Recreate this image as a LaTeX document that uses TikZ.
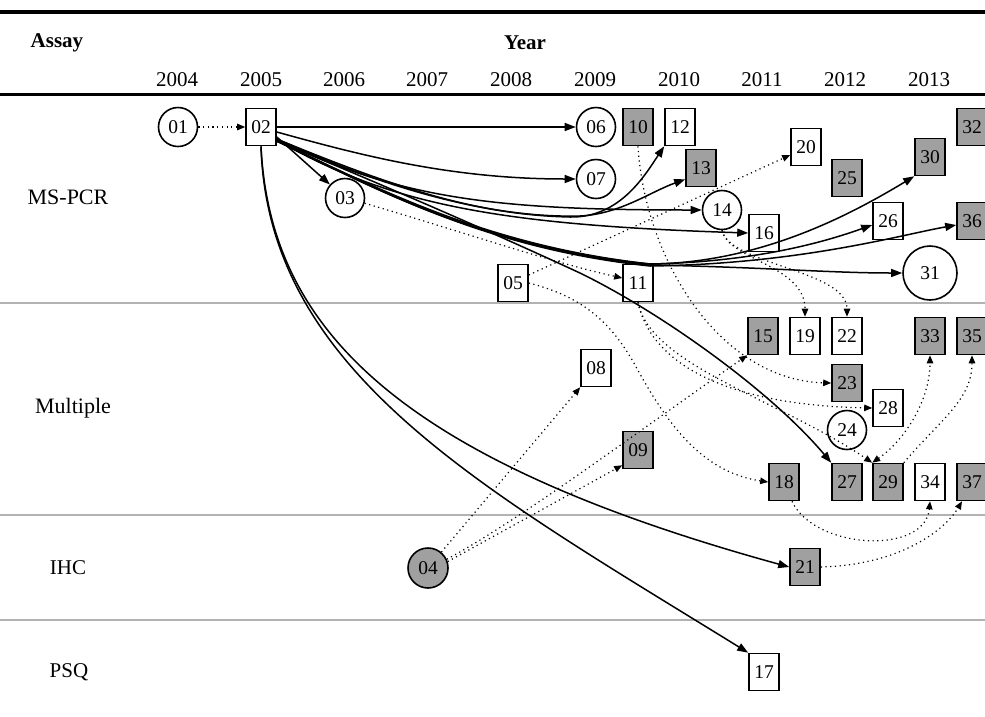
\documentclass[tikz,border=0pt]{standalone}
\usepackage{fontspec}
\setmainfont{Liberation Serif}
\usetikzlibrary{arrows.meta}
\definecolor{nodegray}{RGB}{160,160,160}
\definecolor{rulegray}{RGB}{178,178,178}
\begin{document}
\begin{tikzpicture}[x=1pt,y=-1pt,
  every node/.style={font=\fontsize{19.5}{22}\selectfont},
  sqbox/.style={draw, line width=1.6pt, minimum width=30pt, minimum height=37pt, inner sep=0pt, fill=white},
  gsqbox/.style={sqbox, fill=nodegray},
  circnode/.style={draw, circle, line width=1.6pt, minimum size=39pt, inner sep=0pt, fill=white},
  gcircnode/.style={circnode, fill=nodegray},
  soledge/.style={line width=1.5pt, -{Triangle[length=11pt,width=8pt]}},
  dotedge/.style={line width=1.2pt, dash pattern=on 1.2pt off 3.5pt, -{Triangle[length=8pt,width=6.5pt]}},
  dotboth/.style={line width=1.2pt, dash pattern=on 1.2pt off 3.5pt, {Triangle[length=8pt,width=6.5pt]}-{Triangle[length=8pt,width=6.5pt]}},
  lbl/.style={font=\fontsize{21}{24}\selectfont},
  hdr/.style={font=\fontsize{21}{24}\selectfont\bfseries},
]
\useasboundingbox (0,0) rectangle (985,716);
\clip (0,0) rectangle (985,716);

% rules
\draw[line width=4pt] (0,12) -- (985,12);
\draw[line width=3pt] (0,94) -- (985,94);
\draw[rulegray, line width=2.5pt] (0,303) -- (985,303);
\draw[rulegray, line width=2.5pt] (0,515) -- (985,515);
\draw[rulegray, line width=2.5pt] (0,620) -- (985,620);

% headers
\node[hdr] (hassay) at (57,43) {Assay};
\node[hdr] (hyear) at (525,43) {Year};
\foreach \yr/\xx in {2004/177,2005/261,2006/344,2007/427,2008/511,2009/595,2010/679,2011/762,2012/845,2013/929}
  \node[lbl] (y\yr) at (\xx,80) {\yr};

% row labels
\node[lbl, font=\fontsize{22}{24}\selectfont] (rms) at (68,197) {MS-PCR};
\node[lbl, font=\fontsize{22}{24}\selectfont] (rmu) at (73,408) {Multiple};
\node[lbl] (rih) at (68,568) {IHC};
\node[lbl] (rps) at (69,672) {PSQ};

% nodes
\node[circnode] (n01) at (178,127) {01};
\node[sqbox] (n02) at (261,127) {02};
\node[circnode] (n03) at (345,198) {03};
\node[gcircnode, minimum size=40pt] (n04) at (428,568) {04};
\node[sqbox] (n05) at (513,283) {05};
\node[circnode] (n06) at (596,127) {06};
\node[circnode] (n07) at (596,179) {07};
\node[sqbox] (n08) at (596,368) {08};
\node[gsqbox] (n09) at (638,450) {09};
\node[gsqbox] (n10) at (638,127) {10};
\node[sqbox] (n11) at (638,283) {11};
\node[sqbox] (n12) at (680,127) {12};
\node[gsqbox] (n13) at (701,168) {13};
\node[circnode] (n14) at (722,210) {14};
\node[gsqbox] (n15) at (763,336) {15};
\node[sqbox] (n16) at (764,233) {16};
\node[sqbox] (n17) at (764,672) {17};
\node[gsqbox] (n18) at (784,482) {18};
\node[sqbox] (n19) at (805,336) {19};
\node[sqbox] (n20) at (806,147) {20};
\node[gsqbox] (n21) at (805,567) {21};
\node[sqbox] (n22) at (847,336) {22};
\node[gsqbox] (n23) at (847,383) {23};
\node[circnode] (n24) at (847,430) {24};
\node[gsqbox] (n25) at (847,178) {25};
\node[sqbox] (n26) at (888,221) {26};
\node[gsqbox] (n27) at (847,482) {27};
\node[sqbox] (n28) at (888,408) {28};
\node[gsqbox] (n29) at (888,482) {29};
\node[gsqbox] (n30) at (930,157) {30};
\node[circnode, minimum size=54pt] (n31) at (930,273) {31};
\node[gsqbox] (n32) at (972,127) {32};
\node[gsqbox] (n33) at (930,336) {33};
\node[sqbox] (n34) at (930,482) {34};
\node[gsqbox] (n35) at (972,336) {35};
\node[gsqbox] (n36) at (972,221) {36};
\node[gsqbox] (n37) at (972,482) {37};

% solid edges from 02
\draw[soledge] (n02) -- (n06);
\draw[soledge] ([yshift=-5pt]n02.east) .. controls (360,155) and (450,179) .. (n07.west);
\draw[soledge] ([yshift=-10pt]n02.east) -- (n03);
\draw[soledge] ([yshift=-12pt]n02.east) .. controls (400,190) and (480,215) .. (570,217) .. controls (620,218) and (645,175) .. (n12.south west);
\draw[soledge] ([yshift=-12pt]n02.east) .. controls (400,195) and (500,218) .. (580,216) .. controls (620,214) and (650,192) .. ([yshift=8pt]n13.south west);
\draw[soledge] ([yshift=-12pt]n02.east) .. controls (400,200) and (500,210) .. (n14.west);
\draw[soledge] ([yshift=-13pt]n02.east) .. controls (390,205) and (500,225) .. (n16.west);
\draw[soledge] ([yshift=-14pt]n02.east) .. controls (370,185) and (480,247) .. (650,265) .. controls (760,267) and (830,273) .. (n31.west);
\draw[soledge] ([yshift=-14pt]n02.east) .. controls (370,184) and (480,245) .. (650,264) .. controls (760,263) and (850,215) .. (n30.south west);
\draw[soledge] ([yshift=-14pt]n02.east) .. controls (370,186) and (480,247) .. (650,264) .. controls (760,262) and (830,240) .. ([yshift=-4pt]n26.west);
\draw[soledge] ([yshift=-14pt]n02.east) .. controls (370,185) and (480,248) .. (650,266) .. controls (800,264) and (900,235) .. ([yshift=-4pt]n36.west);
\draw[soledge] ([yshift=-14pt]n02.east) .. controls (400,192) and (500,236) .. (580,273) .. controls (660,312) and (770,390) .. (n27.north west);
\draw[soledge] (n02.south) .. controls (270,330) and (400,460) .. (n21.west);
\draw[soledge] (n02.south) .. controls (268,372) and (480,487) .. (n17.north west);

% dotted edges
\draw[dotedge] (n01) -- (n02);
\draw[dotedge] (n03.-15) .. controls (450,228) and (550,262) .. ([yshift=5pt]n11.west);
\draw[dotedge] ([yshift=8pt]n05.east) -- ([yshift=-8pt]n20.west);
\draw[dotedge] (n05.east) .. controls (580,296) and (610,320) .. (635,365) .. controls (665,420) and (700,472) .. (n18.west);
\draw[dotedge] (n04) -- (n08.south west);
\draw[dotedge] (n04.25) .. controls (520,520) and (640,430) .. (n15.south west);
\draw[dotedge] (n04.18) -- ([yshift=4pt]n09.south west);
\draw[dotedge] (n10.south) .. controls (645,260) and (720,380) .. (n23.west);
\draw[dotedge] (n11.south) .. controls (650,360) and (720,405) .. (n28.west);
\draw[dotedge] (n11.south) .. controls (650,365) and (780,400) .. (n29.north west);
\draw[dotedge] (n14.south) .. controls (728,260) and (805,265) .. (n19.north);
\draw[dotedge] (n14.south) .. controls (730,265) and (847,270) .. (n22.north);
\draw[dotboth] (n29.north west) .. controls (905,440) and (930,400) .. (n33.south);
\draw[dotedge] (n29.north east) .. controls (940,420) and (972,400) .. (n35.south);
\draw[dotedge] ([xshift=8pt]n18.south) .. controls (815,550) and (925,555) .. (n34.south);
\draw[dotedge] (n21.east) .. controls (900,565) and (945,530) .. ([xshift=-10pt]n37.south);
\end{tikzpicture}
\end{document}
